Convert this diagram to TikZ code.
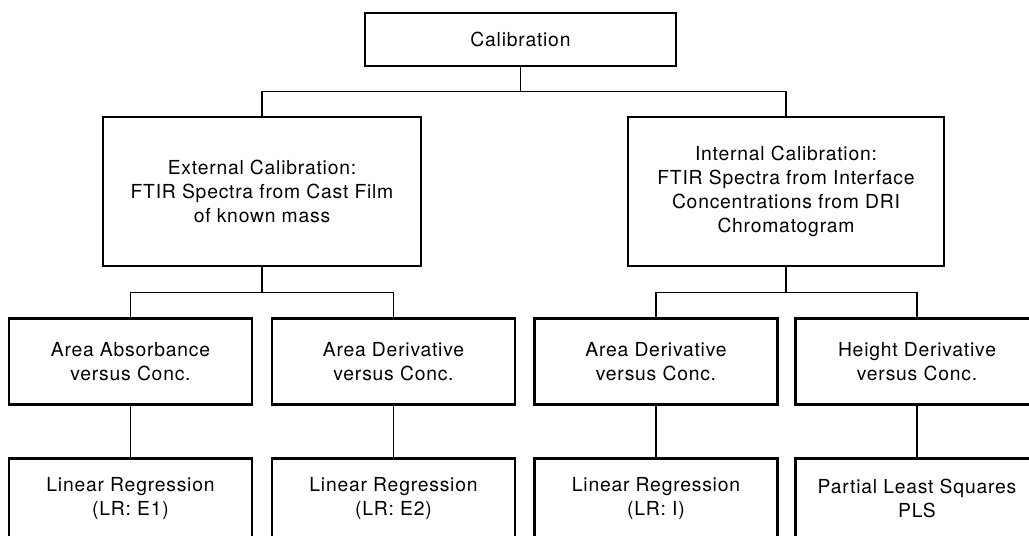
\documentclass[tikz,border=0pt]{standalone}
\usepackage{fontspec}
\setmainfont[LetterSpace=4]{TeX Gyre Heros}
\usepackage{tikz}
\usetikzlibrary{positioning}

\begin{document}
\begin{tikzpicture}[
    box/.style={draw, line width=1.6pt, align=center, font=\fontsize{11}{13.6}\selectfont},
    bigbox/.style={box, minimum height=2.98cm},
    smallbox/.style={box, minimum width=4.86cm, minimum height=1.72cm},
    link/.style={line width=0.7pt}]
      \useasboundingbox (0,0) rectangle (20.58,-10.70);
      \clip (0,0) rectangle (20.58,-10.70);
      % top
      \node[box, minimum width=6.22cm, minimum height=1.06cm] (calib) at (10.41,-0.79) {Calibration};
      % second level
      \node[bigbox, minimum width=6.36cm] (ext) at (5.24,-3.83) {External Calibration:\\FTIR Spectra from Cast Film\\of known mass};
      \node[bigbox, minimum width=6.32cm] (int) at (15.72,-3.83) {Internal Calibration:\\FTIR Spectra from Interface\\Concentrations from DRI\\Chromatogram};
      % third level
      \node[smallbox, below=1cm of ext, xshift=-2.63cm] (extA) {Area Absorbance\\versus Conc.};
      \node[smallbox, below=1cm of ext, xshift=2.63cm] (extB) {Area Derivative\\versus Conc.};
      \node[smallbox, below=1cm of int, xshift=-2.60cm] (intA) {Area Derivative\\versus Conc.};
      \node[smallbox, below=1cm of int, xshift=2.62cm] (intB) {Height Derivative\\versus Conc.};
      % bottom level (cut off by the page edge)
      \node[smallbox, minimum height=1.58cm, below=1.02cm of extA] (lrA) {Linear Regression\\(LR: E1)};
      \node[smallbox, minimum height=1.58cm, below=1.02cm of extB] (lrB) {Linear Regression\\(LR: E2)};
      \node[smallbox, minimum height=1.58cm, below=1.02cm of intA] (lrI) {Linear Regression\\(LR: I)};
      \node[smallbox, minimum height=1.58cm, below=1.02cm of intB] (pls) {Partial Least Squares\\PLS};
      % connectors
      \draw[link] (calib.south) -- ++(0,-0.48) coordinate (bus0);
      \draw[link] (ext.north) |- (bus0) -| (int.north);
      \draw[link] (ext.south) -- ++(0,-0.5) coordinate (bus1);
      \draw[link] (extA.north) |- (bus1) -| (extB.north);
      \draw[link] (int.south) -- ++(0,-0.5) coordinate (bus2);
      \draw[link] (intA.north) |- (bus2) -| (intB.north);
      \draw[link] (extA) -- (lrA);
      \draw[link] (extB) -- (lrB);
      \draw[link] (intA) -- (lrI);
      \draw[link] (intB) -- (pls);
    \end{tikzpicture}
\end{document}
